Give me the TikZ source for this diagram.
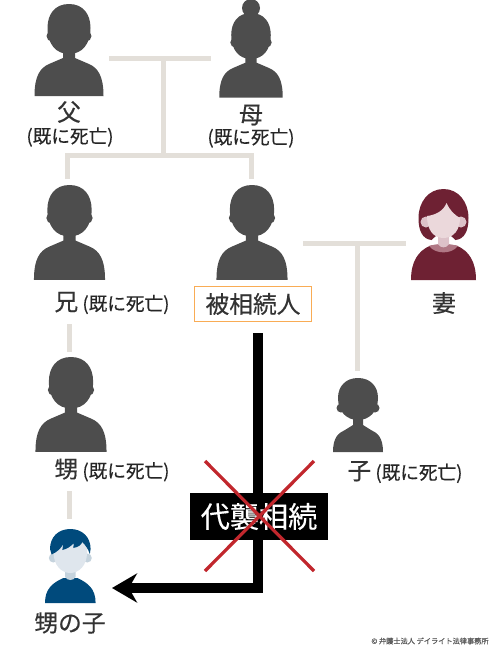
\documentclass[tikz,border=0pt]{standalone}
\usepackage{fontspec}
\setmainfont{Noto Sans CJK JP}[FakeBold=0.4]
\usepackage{xcolor}
\usetikzlibrary{arrows.meta}
\definecolor{figdark}{HTML}{4D4D4D}
\definecolor{linegray}{HTML}{E3DFD9}
\definecolor{textdark}{HTML}{333333}
\definecolor{wifered}{HTML}{6E2133}
\definecolor{wifeskin}{HTML}{EBD8DB}
\definecolor{wifeear}{HTML}{DDC2C9}
\definecolor{wifecollar}{HTML}{B07885}
\definecolor{boyblue}{HTML}{004A7C}
\definecolor{boyskin}{HTML}{DFE6ED}
\definecolor{boyear}{HTML}{C5D3DD}
\definecolor{boxorange}{HTML}{F9AC55}
\definecolor{crossred}{HTML}{C1272D}

\tikzset{
  bust/.pic={
    \fill[figdark] (0,0) .. controls (14,0) and (21.5,10) .. (21.5,24) .. controls (21.5,40) and (13,50) .. (0,50) .. controls (-13,50) and (-21.5,40) .. (-21.5,24) .. controls (-21.5,10) and (-14,0) .. (0,0) -- cycle;
    \fill[figdark] (-17,32) circle (5.5);
    \fill[figdark] (17,32) circle (5.5);
    \fill[figdark] (-34.5,92) .. controls (-34.5,72) and (-29,64) .. (-20,60) -- (-6,54) -- (-6,44) -- (6,44) -- (6,54) -- (20,60) .. controls (29,64) and (34.5,72) .. (34.5,92) -- cycle;
  },
  kidbust/.pic={
    \fill[figdark] (0,0) .. controls (12,0) and (20,8) .. (20,20) .. controls (20,34) and (11,42) .. (0,42) .. controls (-11,42) and (-20,34) .. (-20,20) .. controls (-20,8) and (-12,0) .. (0,0) -- cycle;
    \fill[figdark] (-17,30) circle (4.5);
    \fill[figdark] (17,30) circle (4.5);
    \fill[figdark] (-25,74) .. controls (-25,60) and (-20,55) .. (-13,52) -- (-5,47) -- (-5,36) -- (5,36) -- (5,47) -- (13,52) .. controls (20,55) and (25,60) .. (25,74) -- cycle;
  },
  wifebust/.pic={
    \fill[wifered] (-32.5,91) .. controls (-32.5,72) and (-25,62) .. (-14,57) .. controls (-8,55) and (8,55) .. (14,57) .. controls (25,62) and (32.5,72) .. (32.5,91) -- cycle;
    \fill[wifecollar] (-14.5,57) .. controls (-8,65.5) and (8,65.5) .. (14.5,57) .. controls (8,54.5) and (-8,54.5) .. (-14.5,57) -- cycle;
    \fill[wifeear] (-5.5,44) -- (5.5,44) -- (5.5,55) .. controls (3,59.5) and (-3,59.5) .. (-5.5,55) -- cycle;
    \fill[wifered] (0,0) .. controls (15,0) and (25,13) .. (25,29) .. controls (25,42) and (21,50) .. (12,51) -- (0,40) -- (-12,51) .. controls (-21,50) and (-25,42) .. (-25,29) .. controls (-25,13) and (-15,0) .. (0,0) -- cycle;
    \fill[wifeear] (-17.5,33) circle (5.5);
    \fill[wifeear] (17.5,33) circle (5.5);
    \fill[wifeskin] (3,14) .. controls (6,21) and (11,26) .. (16.5,29) .. controls (16.5,41) and (10,49) .. (0,49) .. controls (-10,49) and (-16.5,41) .. (-16.5,27) .. controls (-8,26) and (0,22) .. (3,14) -- cycle;
  },
  boybust/.pic={
    \fill[boyblue] (-25.3,74) .. controls (-25.3,60) and (-18,54) .. (-7,49) -- (7,49) .. controls (18,54) and (25.3,60) .. (25.3,74) -- cycle;
    \fill[boyear] (-5.3,38) -- (5.3,38) -- (5.3,48) .. controls (3,52) and (-3,52) .. (-5.3,48) -- cycle;
    \fill[boyear] (-17,29) circle (4.5);
    \fill[boyear] (17,29) circle (4.5);
    \fill[boyskin] (-16.7,10) -- (16.7,10) -- (16.7,24) .. controls (16.7,36) and (9,44) .. (0,44) .. controls (-9,44) and (-16.7,36) .. (-16.7,24) -- cycle;
    \fill[boyblue] (0,0) .. controls (12,0) and (20.3,8) .. (20.3,20) -- (19.5,25) .. controls (18,20) and (15,16) .. (12,13) .. controls (11,16) and (8,18) .. (3,19) -- (3.5,14) .. controls (1,17) and (-3,20) .. (-8,21) -- (-7,15) .. controls (-9,19) and (-13,23) .. (-18.7,25.5) -- (-20.3,20) .. controls (-20.3,8) and (-12,0) .. (0,0) -- cycle;
  },
}

\begin{document}
\begin{tikzpicture}[
  x=0.2mm,y=-0.2mm,
  famline/.style={draw=linegray,line width=1mm},
  namelbl/.style={font=\fontsize{13.5pt}{15pt}\selectfont,text=textdark,inner sep=0pt},
  notelbl/.style={font=\fontsize{10.6pt}{12pt}\selectfont,text=black!85,inner sep=0pt},
  bothlbl/.style={font=\fontsize{10.6pt}{12pt}\selectfont,text=black!85,inner sep=0pt}
]
\useasboundingbox (0,0) rectangle (500,650);

% parents
\coordinate (fatherr) at (109,58);
\coordinate (motherl) at (211,58);
\coordinate (parentsmid) at (163,58);
\coordinate (kidsmid) at (163,155);
\coordinate (brothertop) at (67,179);
\coordinate (selftop) at (251,179);
\draw[famline] (fatherr) -- (motherl);
\draw[famline] (parentsmid) -- (kidsmid);
\draw[famline] (brothertop) |- (kidsmid) -| (selftop);

% spouse and child
\coordinate (selfr) at (303,243);
\coordinate (wifel) at (406,243);
\coordinate (spousemid) at (357,243);
\coordinate (childtop) at (357,371);
\draw[famline] (selfr) -- (wifel);
\draw[famline] (spousemid) -- (childtop);

% brother line
\coordinate (brotherb) at (69,324);
\coordinate (nephewt) at (69,352);
\coordinate (nephewb) at (69,491);
\coordinate (boyt) at (69,519);
\draw[famline] (brotherb) -- (nephewt);
\draw[famline] (nephewb) -- (boyt);

\pic at (69,4) {bust};
\fill[figdark] (251,8) circle (9);
\pic[scale=.92] at (251,13) {bust};
\pic[scale=1.03] at (69.5,185) {bust};
\pic[scale=1.03] at (252,185) {bust};
\pic[scale=1.03] at (71,357) {bust};
\pic at (358,378) {kidbust};
\pic at (443.5,189) {wifebust};
\pic at (70.3,529) {boybust};

\node[namelbl] (father) at (69,112) {父};
\node[notelbl] (fathernote) at (70,137) {(既に死亡)};
\node[namelbl] (mother) at (251,115) {母};
\node[notelbl] (mothernote) at (251,138) {(既に死亡)};
\node[bothlbl] (brother) at (112,303) {{\fontsize{13.5pt}{15pt}\selectfont\color{textdark}兄} (既に死亡)};
\node[draw=boxorange,line width=.25mm,minimum width=23.4mm,minimum height=7mm,inner sep=0pt,namelbl] (heir) at (253,304) {被相続人};
\node[namelbl] (wife) at (444,303) {妻};
\node[bothlbl] (nephew) at (112,470) {{\fontsize{13.5pt}{15pt}\selectfont\color{textdark}甥} (既に死亡)};
\node[bothlbl] (child) at (405,472) {{\fontsize{13.5pt}{15pt}\selectfont\color{textdark}子} (既に死亡)};
\node[namelbl] (boy) at (70,623) {甥の子};
\node[font=\fontsize{4.1pt}{5pt}\selectfont,text=black!65,inner sep=0pt] (credit) at (430,641) {© 弁護士法人 デイライト法律事務所};

% succession
\coordinate (heirout) at (257.5,333);
\coordinate (boyin) at (112,588);
\draw[line width=2mm,-{Stealth[length=5mm,width=5.8mm]}] (heirout) |- (boyin);
\node[fill=black,text=white,font=\fontsize{16.6pt}{18pt}\selectfont,minimum width=27.6mm,minimum height=9.4mm,inner sep=0pt] (daishu) at (259,516.5) {代襲相続};

\coordinate (crossa) at (205,461);
\coordinate (crossb) at (314,571);
\coordinate (crossc) at (314,461);
\coordinate (crossd) at (205,571);
\draw[crossred,line width=.65mm] (crossa) -- (crossb);
\draw[crossred,line width=.65mm] (crossc) -- (crossd);
\end{tikzpicture}
\end{document}
